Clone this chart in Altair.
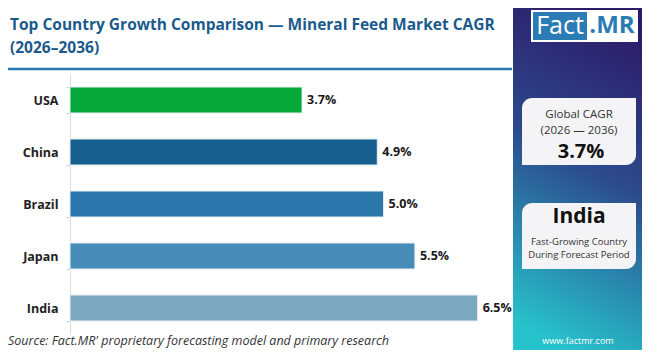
import altair as alt
import pandas as pd

countries = ["USA", "China", "Brazil", "Japan", "India"]
cagr = [3.7, 4.9, 5.0, 5.5, 6.5]
labels = ["3.7%", "4.9%", "5.0%", "5.5%", "6.5%"]
bar_colors = ["#07a83b", "#175f8f", "#2b76ab", "#478cb6", "#7ea8c0"]

title_lines = ["Top Country Growth Comparison \u2014 Mineral Feed Market CAGR", "(2026\u20132036)"]
card1_lines = ["Global CAGR", "(2026 \u2014 2036)"]
card1_value = "3.7%"
card2_title = "India"
card2_lines = ["Fast-Growing Country", "During Forecast Period"]
source_text = "Source: Fact.MR' proprietary forecasting model and primary research"
site_text = "www.factmr.com"

FONT = "Open Sans"
W, H = 439, 260

df = pd.DataFrame({"country": countries, "cagr": cagr, "label": labels})
one = pd.DataFrame({"k": [0]})

x_enc = alt.X("cagr:Q", scale=alt.Scale(domain=[0, 7], nice=False), axis=None)
y_enc = alt.Y("country:N", sort=countries, scale=alt.Scale(paddingInner=0.5, paddingOuter=0.25),
              axis=alt.Axis(title=None, domainColor="#dcdcdc", tickColor="#d0d0d0", tickSize=4,
                            tickBand="extent", labelFont=FONT, labelFontWeight="bold",
                            labelFontSize=12.5, labelColor="#222222", labelPadding=8, grid=False))

bars = alt.Chart(df).mark_bar(stroke="#e8eef3", strokeWidth=1).encode(
    x=x_enc, y=y_enc,
    color=alt.Color("country:N", scale=alt.Scale(domain=countries, range=bar_colors), legend=None),
)
vals = alt.Chart(df).mark_text(align="left", baseline="middle", dx=5, font=FONT,
                               fontWeight="bold", fontSize=12.5, color="#1a1a1a").encode(
    x=x_enc, y=alt.Y("country:N", sort=countries), text="label:N")


def px(ix):
    return ix - 70


def py(iy):
    return iy - 74


def rect(x0, x1, y0, y1, **kw):
    return alt.Chart(one).mark_rect(**kw).encode(
        x=alt.value(px(x0)), x2=alt.value(px(x1)), y=alt.value(py(y0)), y2=alt.value(py(y1)))


def text(t, ix, iy, **kw):
    return alt.Chart(pd.DataFrame({"t": [t]})).mark_text(font=FONT, baseline="middle", **kw).encode(
        x=alt.value(px(ix)), y=alt.value(py(iy)), text="t:N")


panel = rect(513, 642, 8, 350, fill=alt.Gradient(
    gradient="linear", x1=0.6, y1=0, x2=0.4, y2=1,
    stops=[alt.GradientStop(offset=0, color="#2d1b69"),
           alt.GradientStop(offset=0.45, color="#2c4a8c"),
           alt.GradientStop(offset=1, color="#27c3cc")]))

underline = alt.Chart(one).mark_rule(color="#2a7ab0", strokeWidth=2.5).encode(
    x=alt.value(px(8)), x2=alt.value(px(512)), y=alt.value(py(69)))

logo_bg = rect(531, 638, 10, 42, fill="#ffffff")
logo_blue = rect(533, 587, 12, 40, fill="#2b7bb5")
logo_fact = text("Fact", 560, 26, align="center", fontSize=25, color="#ffffff")
logo_mr = text(".MR", 612, 26, align="center", fontSize=24, fontWeight="bold", color="#2b7bb5")

card1 = rect(522, 636, 98, 165, fill="#f4f4f6", cornerRadiusTopLeft=10, cornerRadiusBottomRight=10)
card2 = rect(522, 636, 203, 269, fill="#f4f4f6", cornerRadiusTopLeft=10, cornerRadiusBottomRight=10)

texts = [
    text(title_lines[0], 10, 25, align="left", fontSize=15.5, fontWeight="bold", color="#1b5a8c"),
    text(title_lines[1], 10, 48, align="left", fontSize=15.5, fontWeight="bold", color="#1b5a8c"),
    text(card1_lines[0], 579, 115, align="center", fontSize=11.5, color="#333333"),
    text(card1_lines[1], 579, 131, align="center", fontSize=11.5, color="#333333"),
    text(card1_value, 581, 152, align="center", fontSize=20, fontWeight="bold", color="#111111"),
    text(card2_title, 579, 217, align="center", fontSize=21, fontWeight="bold", color="#111111"),
    text(card2_lines[0], 579, 242, align="center", fontSize=9.5, color="#333333"),
    text(card2_lines[1], 579, 255, align="center", fontSize=9.5, color="#333333"),
    text(site_text, 578, 341, align="center", fontSize=9, color="#ffffff"),
    text(source_text, 8, 341, align="left", fontSize=12.5, fontStyle="italic", color="#333333"),
]

chart = alt.layer(panel, underline, logo_bg, logo_blue, logo_fact, logo_mr, card1, card2,
                  bars, vals, *texts).properties(
    width=W, height=H,
    autosize=alt.AutoSizeParams(type="none"),
    padding={"left": 62, "top": 66, "right": 133, "bottom": 16},
    background="#ffffff",
).configure_view(stroke=None)

chart.save("out.html", embed_options={"renderer": "svg", "actions": False})
